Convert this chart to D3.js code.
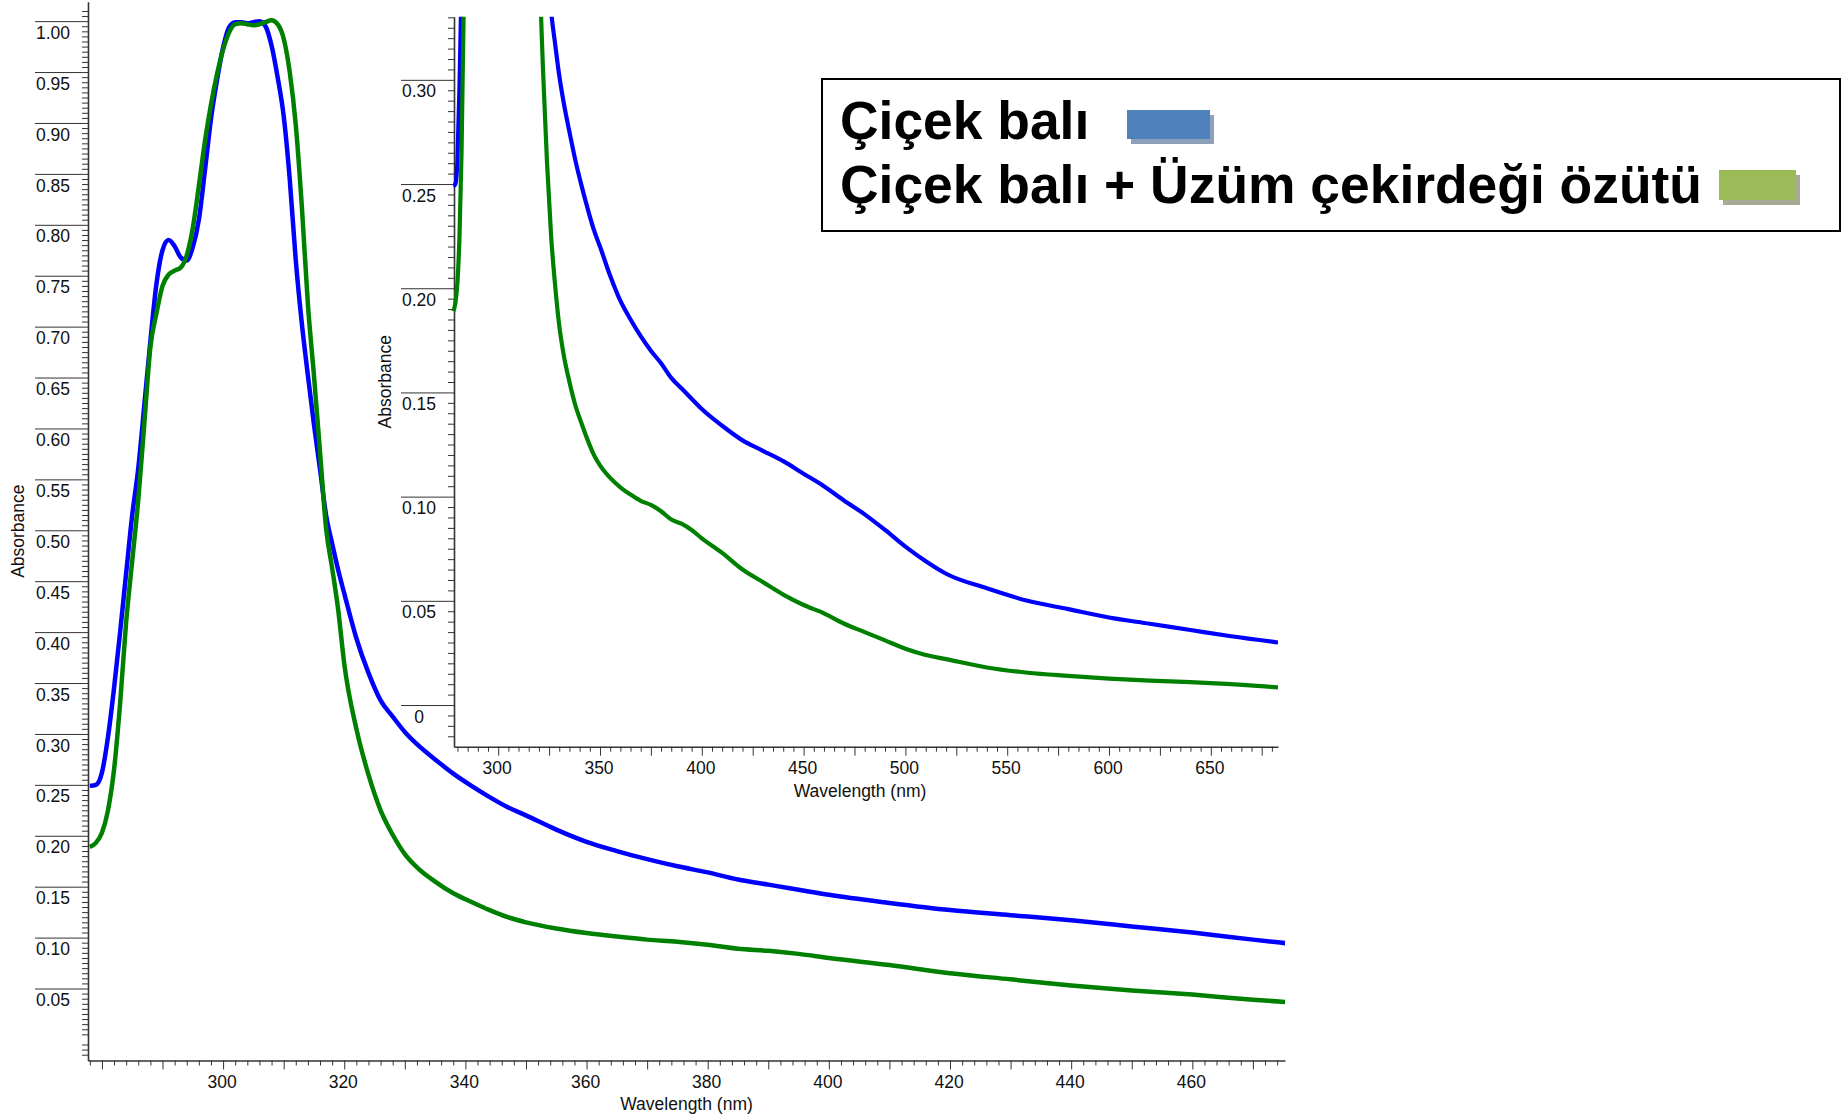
<!DOCTYPE html>
<html>
<head>
<meta charset="utf-8">
<script src="https://cdn.jsdelivr.net/npm/d3@7"></script>
<style>
  body { margin: 0; background: #fff; }
  svg { display: block; font-family: "Liberation Sans", Arial, sans-serif; }
  .axis text { font-size: 17.5px; fill: #111; }
  .axis path, .axis line { stroke: #333; }
  .title { font-size: 17.5px; fill: #111; }
  .legend-text { font-size: 53.4px; font-weight: bold; fill: #000; }
</style>
</head>
<body>
<div id="app"></div>
<script>
// wavelength (nm)
const wavelengths = [
  278, 279, 280, 281, 282, 283, 284, 285, 286, 287,
  288, 289, 290, 291, 292, 293, 294, 295, 296, 297,
  298, 299, 300, 301, 302, 303, 304, 305, 306, 307,
  308, 309, 310, 311, 312, 313, 314, 315, 316, 317,
  318, 319, 320, 322, 324, 326, 328, 330, 332, 335,
  338, 341, 344, 347, 350, 355, 360, 365, 370, 375,
  380, 385, 390, 395, 400, 410, 420, 430, 440, 450,
  460, 470, 480, 490, 500, 510, 520, 540, 560, 580,
  600, 620, 640, 660, 683
];

// Çiçek balı (blue)
const cicekBali = [
  0.249, 0.250, 0.262, 0.297, 0.345, 0.400, 0.458, 0.515, 0.561, 0.623,
  0.686, 0.742, 0.775, 0.785, 0.779, 0.768, 0.765, 0.778, 0.805, 0.853,
  0.904, 0.942, 0.974, 0.994, 0.999, 0.999, 0.998, 0.999, 1.000, 0.995,
  0.976, 0.945, 0.907, 0.845, 0.765, 0.703, 0.652, 0.604, 0.560, 0.515,
  0.487, 0.461, 0.438, 0.394, 0.360, 0.333, 0.317, 0.302, 0.290, 0.275,
  0.261, 0.249, 0.238, 0.228, 0.220, 0.206, 0.194, 0.185, 0.177, 0.170,
  0.164, 0.157, 0.152, 0.147, 0.142, 0.134, 0.127, 0.122, 0.117, 0.111,
  0.105, 0.098, 0.0915, 0.084, 0.076, 0.069, 0.063, 0.056, 0.050, 0.046,
  0.042, 0.039, 0.036, 0.033, 0.030
];

// Çiçek balı + Üzüm çekirdeği özütü (green)
const cicekUzum = [
  0.189, 0.193, 0.203, 0.225, 0.265, 0.330, 0.410, 0.470, 0.530, 0.605,
  0.680, 0.713, 0.740, 0.751, 0.755, 0.758, 0.770, 0.797, 0.838, 0.882,
  0.918, 0.948, 0.972, 0.989, 0.997, 0.998, 0.997, 0.996, 0.997, 0.999,
  1.001, 0.997, 0.983, 0.950, 0.898, 0.818, 0.722, 0.652, 0.577, 0.502,
  0.463, 0.422, 0.369, 0.305, 0.260, 0.225, 0.201, 0.182, 0.169, 0.155,
  0.1435, 0.135, 0.127, 0.120, 0.115, 0.109, 0.1045, 0.101, 0.098, 0.096,
  0.093, 0.089, 0.087, 0.084, 0.080, 0.073, 0.065, 0.059, 0.053, 0.048,
  0.044, 0.039, 0.035, 0.031, 0.027, 0.024, 0.022, 0.018, 0.0155, 0.014,
  0.0127, 0.0117, 0.011, 0.010, 0.0085
];

const mainXTicks = [300, 320, 340, 360, 380, 400, 420, 440, 460];
const insetXTicks = [300, 350, 400, 450, 500, 550, 600, 650];
const mainYTicks = d3.range(1, 21).map(i => i / 20);
const insetYTicks = d3.range(0, 7).map(i => i / 20);

const legendLabels = ["Çiçek balı", "Çiçek balı + Üzüm çekirdeği özütü"];
const lineColors = ["#0000ff", "#008000"];
const swatchColors = ["#4f81bd", "#9bbb59"];
const shadowColors = ["#8fa1ba", "#a5ab94"];

const width = 1843, height = 1117;

const svg = d3.select("#app").append("svg")
  .attr("width", width).attr("height", height);

const series = [cicekBali, cicekUzum].map(vals =>
  wavelengths.map((w, i) => ({ w, v: vals[i] })));

// main chart scales
const xMain = d3.scaleLinear().domain([277.7, 475.3]).range([88, 1285]);
const yMain = d3.scaleLinear().domain([-0.0207, 1.019]).range([1060.5, 1.8]);

// inset scales
const xIn = d3.scaleLinear().domain([278.3, 683]).range([454, 1278]);
const yIn = d3.scaleLinear().domain([-0.02, 0.3303]).range([746.7, 16.7]);

const fmt = d => d === 0 ? "0" : d3.format(".2f")(d);

function yAxis(g, y, majors, minorStep, lo, hi) {
  const minors = d3.range(Math.ceil(lo / minorStep), Math.floor(hi / minorStep) + 1)
    .map(i => i * minorStep)
    .filter(v => Math.abs(v / 0.05 - Math.round(v / 0.05)) > 1e-6);
  g.append("g").attr("class", "axis")
    .call(d3.axisLeft(y).tickValues(minors).tickSize(6).tickSizeOuter(0).tickFormat(""))
    .call(a => a.select(".domain").remove());
  g.append("g").attr("class", "axis")
    .call(d3.axisLeft(y).tickValues(majors).tickSize(53).tickSizeOuter(0).tickFormat(fmt))
    .call(a => a.select(".domain").attr("stroke-width", 1.6))
    .call(a => a.selectAll("text")
      .attr("x", -35).attr("y", 11).attr("dy", "0.35em")
      .attr("text-anchor", "middle"));
}

function xAxis(g, x, majors, minorStep, midStep, lo, hi) {
  const all = d3.range(Math.ceil(lo / minorStep), Math.floor(hi / minorStep) + 1)
    .map(i => i * minorStep)
    .filter(v => !majors.includes(v));
  const mids = all.filter(v => v % midStep === 0);
  const minors = all.filter(v => v % midStep !== 0);
  g.append("g").attr("class", "axis")
    .call(d3.axisBottom(x).tickValues(minors).tickSize(5).tickSizeOuter(0).tickFormat(""))
    .call(a => a.select(".domain").remove());
  g.append("g").attr("class", "axis")
    .call(d3.axisBottom(x).tickValues(mids).tickSize(9).tickSizeOuter(0).tickFormat(""))
    .call(a => a.select(".domain").remove());
  g.append("g").attr("class", "axis")
    .call(d3.axisBottom(x).tickValues(majors).tickSize(9).tickSizeOuter(0))
    .call(a => a.select(".domain").attr("stroke-width", 1.6))
    .call(a => a.selectAll("text").attr("y", 21).attr("dy", "0.35em").attr("x", -1.5));
}

function clipTo(id, x, y, padLeft) {
  svg.append("clipPath").attr("id", id)
    .append("rect")
    .attr("x", x.range()[0] - padLeft).attr("y", y.range()[1])
    .attr("width", x.range()[1] - x.range()[0] + padLeft)
    .attr("height", y.range()[0] - y.range()[1]);
}

// main axes
const gMainY = svg.append("g").attr("transform", `translate(${xMain.range()[0]},0)`);
yAxis(gMainY, yMain, mainYTicks, 0.005, -0.015, 1.015);
const gMainX = svg.append("g").attr("transform", `translate(0,${yMain.range()[0]})`);
xAxis(gMainX, xMain, mainXTicks, 2, 10, 278, 475);

svg.append("text").attr("class", "title")
  .attr("text-anchor", "middle")
  .attr("x", d3.mean(xMain.range())).attr("y", yMain.range()[0] + 43).attr("dy", "0.35em")
  .text("Wavelength (nm)");
svg.append("text").attr("class", "title")
  .attr("text-anchor", "middle").attr("dy", "0.35em")
  .attr("transform", `translate(18,${d3.mean(yMain.range())}) rotate(-90)`)
  .text("Absorbance");

clipTo("main-clip", xMain, yMain, 4);
const lineMain = d3.line().curve(d3.curveMonotoneX).x(d => xMain(d.w)).y(d => yMain(d.v));
svg.append("g").attr("clip-path", "url(#main-clip)")
  .selectAll("path")
  .data(series)
  .enter().append("path")
  .attr("d", lineMain)
  .attr("fill", "none")
  .attr("stroke", (d, i) => lineColors[i])
  .attr("stroke-width", 4.5)
  .attr("stroke-linejoin", "round");

// inset axes
const gInY = svg.append("g").attr("transform", `translate(${xIn.range()[0]},0)`);
yAxis(gInY, yIn, insetYTicks, 0.005, -0.015, 0.33);
const gInX = svg.append("g").attr("transform", `translate(0,${yIn.range()[0]})`);
xAxis(gInX, xIn, insetXTicks, 5, 25, 280, 680);

svg.append("text").attr("class", "title")
  .attr("text-anchor", "middle")
  .attr("x", d3.mean(xIn.range()) - 6).attr("y", yIn.range()[0] + 44).attr("dy", "0.35em")
  .text("Wavelength (nm)");
svg.append("text").attr("class", "title")
  .attr("text-anchor", "middle").attr("dy", "0.35em")
  .attr("transform", `translate(385,${d3.mean(yIn.range())}) rotate(-90)`)
  .text("Absorbance");

clipTo("inset-clip", xIn, yIn, 4);
const lineIn = d3.line().curve(d3.curveMonotoneX).x(d => xIn(d.w)).y(d => yIn(d.v));
svg.append("g").attr("clip-path", "url(#inset-clip)")
  .selectAll("path")
  .data(series)
  .enter().append("path")
  .attr("d", lineIn)
  .attr("fill", "none")
  .attr("stroke", (d, i) => lineColors[i])
  .attr("stroke-width", 4.2)
  .attr("stroke-linejoin", "round");

// legend
const legend = svg.append("g").attr("id", "legend");
legend.append("rect")
  .attr("x", 822).attr("y", 79).attr("width", 1018).attr("height", 152)
  .attr("fill", "#fff").attr("stroke", "#000").attr("stroke-width", 2);

const legendRows = [
  { label: legendLabels[0], baseline: 139, sw: { x: 1127, y: 110, w: 83, h: 29 } },
  { label: legendLabels[1], baseline: 203, sw: { x: 1719, y: 170, w: 77, h: 30 } }
];
legendRows.forEach((r, i) => {
  legend.append("text").attr("class", "legend-text")
    .attr("x", 840).attr("y", r.baseline).text(r.label);
  legend.append("rect")
    .attr("x", r.sw.x + 4).attr("y", r.sw.y + 5).attr("width", r.sw.w).attr("height", r.sw.h)
    .attr("fill", shadowColors[i]);
  legend.append("rect")
    .attr("x", r.sw.x).attr("y", r.sw.y).attr("width", r.sw.w).attr("height", r.sw.h)
    .attr("fill", swatchColors[i]);
});
</script>
</body>
</html>
